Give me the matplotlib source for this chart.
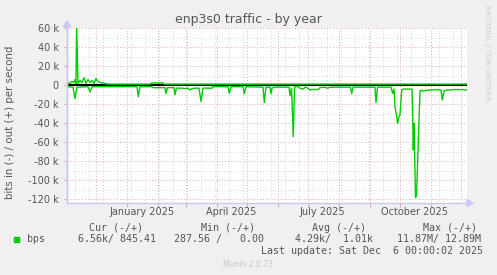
import datetime as dt

import matplotlib
matplotlib.use("Agg")
import matplotlib.pyplot as plt
from matplotlib.ticker import MultipleLocator, FuncFormatter

# ---------------------------------------------------------------------------
# data, x = days since graph start, y = kbit/s
# ---------------------------------------------------------------------------
START = dt.datetime(2024, 11, 2, 8)
SPAN_DAYS = 400

out_day = [0, 3, 5, 7, 8, 9, 9.7, 11, 13, 15, 17, 19, 21, 23, 25, 27, 29, 31,
           33, 36, 39, 43, 83, 85, 96, 97, 400]
out_kbps = [3, 2, 4, 3, 6, 1.5, 60, 2, 5, 3, 8, 2, 6, 3, 5, 2, 7, 4,
            3, 2.5, 1.5, 1.2, 1.2, 2.5, 2.5, 1.2, 1.2]

in_day = [0, 6, 8, 10, 21, 23, 25, 70, 71.3, 73, 85, 86, 98, 99, 100.5, 107,
          108, 109.5, 115, 118, 121, 123, 125, 129, 132, 134, 136, 145, 146,
          161, 162.3, 164, 176, 177.3, 179, 196, 197.3, 199, 203, 204, 205,
          207, 222, 223, 224.5, 226.3, 227.5, 230, 233, 236.3, 238, 241, 243,
          245, 251, 253, 257, 261, 263, 283.5, 284.7, 286, 308, 309, 310.5,
          324, 325.7, 327, 328, 330.7, 332, 333, 334.7, 336, 345, 345.5,
          346.3, 347, 348.5, 349.5, 353, 354, 355, 363, 368, 374, 375.3, 377,
          380, 388, 395, 398, 400]
in_kbps = [-1.5, -2, -14, -2, -1.5, -7, -1.5, -1.5, -12, -1.5, -1.5, -2.5,
           -2.5, -9, -2.5, -2.5, -10, -3, -3, -3.5, -3, -5, -3.5, -3, -3, -17,
           -3, -3, -1.5, -1.5, -8.5, -1.5, -1.5, -9, -1.5, -2, -18, -2, -2,
           -9, -3, -2, -2, -11, -3, -54, -2, -1, -3, -4, -2, -3, -5, -4.5,
           -4.5, -2.5, -2, -3, -2, -2, -9, -2, -2, -18, -2, -2, -8.5, -4,
           -22, -40, -33, -31, -5, -4, -4, -20, -68, -40, -118, -116, -6, -5,
           -6, -5, -4.5, -5, -15.5, -6, -5, -4.5, -4.5, -5, -5]

Y_MIN, Y_MAX = -123.9, 60.3

legend_heads = [("Cur (-/+)", 89), ("Min (-/+)", 200.7), ("Avg (-/+)", 311.7), ("Max (-/+)", 422.7)]
legend_vals = [("6.56k/ 845.41", 78), ("287.56 /   0.00", 174.3), ("4.29k/  1.01k", 295), ("11.87M/ 12.89M", 396.7)]
last_update = "Last update: Sat Dec  6 00:00:02 2025"

# ---------------------------------------------------------------------------
W, H = 497, 275
BG = "#f0f0f0"
GREEN = "#00cc00"
AXIS_C = "#c8c8f8"
MGRID = "#e8a8a8"
GRID = "#d4d4d4"
TXT = "#555555"


def fx(x):
    return x / W


def fy(y):
    return 1 - y / H


def to_dates(days):
    return [START + dt.timedelta(days=d) for d in days]


fig = plt.figure(figsize=(W / 100, H / 100), dpi=100, facecolor=BG)
ax = fig.add_axes([fx(67), fy(203), 400 / W, 175 / H], facecolor="white")

end = START + dt.timedelta(days=SPAN_DAYS)
ax.set_xlim(START, end)
ax.set_ylim(Y_MIN, Y_MAX)

# grid: grey every 10k / 2 weeks, red every 20k / month
dot = (0, (1, 2))
for v in range(-120, 61, 10):
    c = MGRID if v % 20 == 0 else GRID
    ax.axhline(v, color=c, lw=0.7, ls=dot, zorder=1)
d = dt.datetime(2024, 11, 10)
while d < end:
    ax.axvline(d, color=GRID, lw=0.7, ls=dot, zorder=1)
    d += dt.timedelta(days=14)
month_starts = [dt.datetime(2024 + (11 + i) // 12, (11 + i) % 12 + 1, 1) for i in range(13)]
for m in month_starts:
    ax.axvline(m, color=MGRID, lw=0.7, ls=dot, zorder=1)

ax.axhline(0, color="black", lw=1.5, zorder=2)
ax.plot(to_dates(in_day), in_kbps, color=GREEN, lw=1.0, zorder=3)
ax.plot(to_dates(out_day), out_kbps, color=GREEN, lw=1.0, zorder=3)

# ticks / labels
ax.yaxis.set_major_locator(MultipleLocator(20))
ax.yaxis.set_major_formatter(FuncFormatter(lambda v, p: "0" if v == 0 else f"{int(v)} k"))
ax.tick_params(axis="y", length=2, color=MGRID, labelsize=7, labelcolor=TXT, pad=4)
ax.set_xticks(month_starts[1:-1])
ax.set_xticklabels([])
ax.tick_params(axis="x", length=3, color=MGRID)
for lab in ["January 2025", "April 2025", "July 2025", "October 2025"]:
    mdate = dt.datetime.strptime(lab, "%B %Y") + dt.timedelta(days=15)
    ax.text(mdate, -0.05, lab, transform=ax.get_xaxis_transform(),
            ha="center", va="center", fontsize=7, color=TXT)

for s in ["top", "right"]:
    ax.spines[s].set_visible(False)
for s in ["left", "bottom"]:
    ax.spines[s].set_color(AXIS_C)
    ax.spines[s].set_linewidth(1)

# axis arrows
fig.patches.append(plt.Polygon([[fx(67), fy(21)], [fx(63.5), fy(27)], [fx(70.5), fy(27)]],
                               closed=True, color=AXIS_C, transform=fig.transFigure))
fig.lines.append(plt.Line2D([fx(67), fx(67)], [fy(203), fy(27)], color=AXIS_C, lw=1,
                            transform=fig.transFigure))
fig.patches.append(plt.Polygon([[fx(473), fy(203)], [fx(467), fy(199.5)], [fx(467), fy(206.5)]],
                               closed=True, color=AXIS_C, transform=fig.transFigure))

fig.text(fx(248), fy(19.5), "enp3s0 traffic - by year", ha="center", va="center",
         fontsize=9, color=TXT)
fig.text(fx(10.5), fy(122), "bits in (-) / out (+) per second", rotation=90,
         ha="center", va="center", fontsize=7.4, color=TXT)
fig.text(fx(487), fy(5), "RRDTOOL / TOBI OETIKER", rotation=270, ha="center", va="top",
         fontsize=5.4, color="#cccccc")

# legend block
mono = "DejaVu Sans Mono"
for t, x in legend_heads:
    fig.text(fx(x), fy(227.7), t, ha="left", va="center", fontsize=7.2, family=mono, color=TXT)
fig.patches.append(plt.Rectangle((fx(14), fy(242)), 5.3 / W, 5.3 / H, color=GREEN,
                                 transform=fig.transFigure))
fig.text(fx(27), fy(239.3), "bps", ha="left", va="center", fontsize=7.2, family=mono, color=TXT)
for t, x in legend_vals:
    fig.text(fx(x), fy(239.3), t, ha="left", va="center", fontsize=7.2, family=mono, color=TXT)
fig.text(fx(482.7), fy(251.5), last_update, ha="right", va="center", fontsize=7.2,
         family=mono, color=TXT)
fig.text(fx(248), fy(264.5), "Munin 2.0.73", ha="center", va="center", fontsize=5.5,
         color="#c4c4c4")

fig.savefig("out.png", dpi=100, facecolor=BG)
